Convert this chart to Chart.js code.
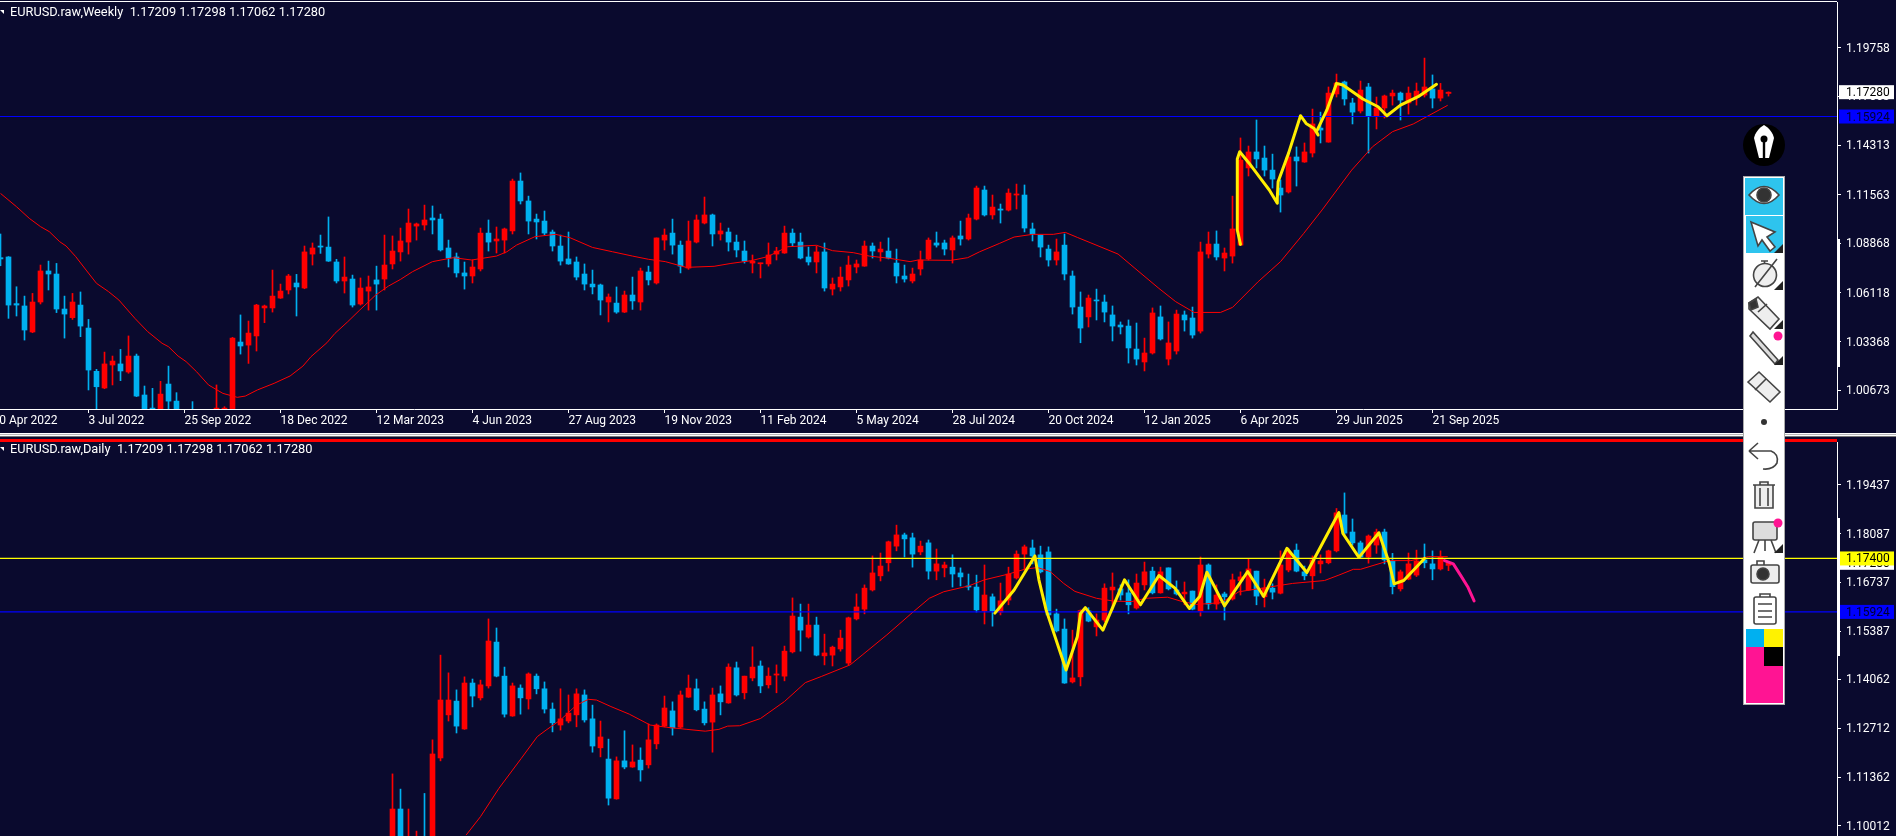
<!DOCTYPE html>
<html>
<head>
<meta charset="utf-8">
<title>EURUSD.raw</title>
<script src="https://cdn.jsdelivr.net/npm/chart.js@4"></script>
<style>
  html, body { margin: 0; padding: 0; width: 1896px; height: 836px; overflow: hidden; background: #0a0a2e; }
  canvas { position: absolute; left: -60px; }
  #weeklyChart { top: 0; }
  #dailyChart { top: 439px; }
  .header { position: absolute; left: 10px; color: #fff; font: 12.8px Roboto, sans-serif; white-space: pre; line-height: 14px; }
  .marker { position: absolute; left: 0; width: 0; height: 0; border-left: 4px solid transparent; border-top: 4px solid #fff; }
  #separator { position: absolute; left: 0; top: 433px; width: 1896px; height: 4px; background: linear-gradient(#fff 0 25%, #b8b8b8 25% 50%, #fff 50% 75%, #777 75%); }
  #redTop { position: absolute; left: 0; top: 439px; width: 1837px; height: 3px; background: #ff0000; }
  .scrollBar { position: absolute; left: 1837px; width: 3px; background: #fff; }
  #toolbar { position: absolute; left: 1743px; top: 120px; }
</style>
</head>
<body>
<canvas id="weeklyChart" width="1956" height="433"></canvas>
<canvas id="dailyChart" width="1956" height="397"></canvas>
<div id="separator"></div>
<div id="redTop"></div>
<div class="marker" style="top:10px"></div>
<div class="marker" style="top:447px"></div>
<div class="header" style="top:5px">EURUSD.raw,Weekly  1.17209 1.17298 1.17062 1.17280</div>
<div class="header" style="top:442px">EURUSD.raw,Daily  1.17209 1.17298 1.17062 1.17280</div>
<div class="scrollBar" style="top:239px;height:128px"></div>
<div class="scrollBar" style="top:518px;height:138px"></div>

<svg id="toolbar" width="44" height="590" viewBox="0 0 44 590">
  <circle cx="21" cy="25" r="21" fill="#000"/>
  <path d="M21 5 C26 8 30 13 31 18 L26 38 H16 L11 18 C12 13 16 8 21 5 Z" fill="#fff"/>
  <circle cx="21" cy="19" r="3.5" fill="#000"/>
  <rect x="19.8" y="21" width="2.4" height="17" fill="#000"/>
  <rect x="0.5" y="56.5" width="41" height="528" fill="#fff" stroke="#aaa"/>
  <rect x="2" y="58" width="38" height="37" fill="#2ec4ee"/>
  <rect x="3" y="96" width="37" height="37" fill="#2ec4ee"/>
  <g fill="none" stroke="#444" stroke-width="1.6">
    <path d="M6 75 Q21 58 36 75 Q21 92 6 75 Z" fill="#fff"/>
    <circle cx="21" cy="75" r="7" fill="#333"/>
    <path d="M8 102 L32 112 L24 117 L32 127 L27 131 L19 120 L15 126 Z" fill="#fff"/>
    <circle cx="22" cy="155" r="11.5" fill="#eee"/>
    <path d="M18 141 h7 M21.5 141 v3 M12 167 L34 139"/>
    <path d="M6 183 L15 177 L36 199 L27 209 L6 189 Z" fill="#eee"/>
    <path d="M6 183 L13 179 L15 187 L8 190 Z" fill="#333"/>
    <path d="M15 192 L24 184"/>
    <path d="M7 216 L10 212 L35 240 L32 244 Z" fill="#ddd"/>
    <path d="M5 262 L16 252 L37 272 L27 282 Z" fill="#eee"/>
    <path d="M12 270 L23 259"/>
    <path d="M6 331 L15 323 M6 331 L15 339 M6 331 H28 Q36 334 34 343 Q30 350 20 349"/>
    <path d="M10 365 H32 M17 365 V362 H25 V365 M12 365 V388 H30 V365 M17 368 V386 M25 368 V386" fill="#eee"/>
    <rect x="10" y="402" width="24" height="18" rx="2" fill="#ddd"/>
    <path d="M16 420 L11 433 M28 420 L33 433 M22 420 V431"/>
    <path d="M14 445 V441 H21 V445"/>
    <rect x="8" y="445" width="28" height="18" rx="2" fill="#eee"/>
    <circle cx="20" cy="454" r="6" fill="#333"/>
    <rect x="11" y="477" width="22" height="27" rx="2" fill="#fff"/>
    <path d="M17 477 V474 H27 V477 M15 484 H29 M15 491 H29 M15 497 H29"/>
  </g>
  <circle cx="21" cy="302" r="3" fill="#333"/>
  <g fill="#222">
    <path d="M40 124 V133 H31 Z"/><path d="M40 161 V170 H31 Z"/><path d="M40 200 V209 H31 Z"/>
    <path d="M40 236 V245 H31 Z"/><path d="M40 424 V433 H31 Z"/>
  </g>
  <circle cx="35" cy="216" r="4.5" fill="#ff1493"/>
  <circle cx="35" cy="403" r="4.5" fill="#ff1493"/>
  <rect x="3" y="509" width="18" height="18" fill="#00b0f0"/>
  <rect x="21" y="509" width="19" height="18" fill="#fff200"/>
  <rect x="3" y="527" width="18" height="19" fill="#ff1493"/>
  <rect x="21" y="527" width="19" height="19" fill="#000"/>
  <rect x="3" y="546" width="37" height="37" fill="#ff1493"/>
</svg>

<script>
// weekly candles, bar 0 is the first one at the left edge of the window
const weeklyOpen = [
  1.0806,1.0810,1.0550,1.0537,1.0392,1.0559,1.0732,1.0715,1.0520,1.0472,
  1.0542,1.0414,1.0173,1.0080,1.0208,1.0214,1.0169,1.0258,1.0041,0.9968,
  0.9930,1.0102,1.0007,0.9930,0.9950,0.9900,0.9800,0.9900,0.9920,0.9900,
  1.0336,1.0319,1.0370,1.0526,1.0526,1.0581,1.0626,1.0665,1.0637,1.0826,
  1.0871,1.0865,1.0782,1.0676,1.0687,1.0548,1.0620,1.0682,1.0687,1.0771,
  1.0838,1.0893,1.0982,1.0988,1.1027,1.1021,1.0860,1.0810,1.0721,1.0704,
  1.0743,1.0943,1.0899,1.0904,1.0955,1.1233,1.1122,1.1021,1.1010,1.0949,
  1.0871,1.0799,1.0782,1.0715,1.0659,1.0654,1.0559,1.0553,1.0503,1.0598,
  1.0559,1.0726,1.0665,1.0904,1.0943,1.0876,1.0748,1.0893,1.0999,1.1044,
  1.0938,1.0949,1.0893,1.0843,1.0776,1.0772,1.0771,1.0826,1.0832,1.0943,
  1.0893,1.0810,1.0782,1.0838,1.0631,1.0643,1.0682,1.0754,1.0759,1.0871,
  1.0838,1.0843,1.0776,1.0704,1.0676,1.0743,1.0799,1.0888,1.0888,1.0849,
  1.0927,1.0910,1.1021,1.1183,1.1044,1.1077,1.1071,1.1155,1.1155,1.0966,
  1.0932,1.0854,1.0793,1.0876,1.0704,1.0531,1.0476,1.0570,1.0559,1.0487,
  1.0431,1.0425,1.0297,1.0225,1.0275,1.0476,1.0241,1.0286,1.0487,1.0470,
  1.0397,1.0826,1.0882,1.0804,1.0815,1.0876,1.1306,1.1395,1.1361,1.1294,
  1.1194,1.1172,1.1367,1.1339,1.1389,1.1528,1.1450,1.1718,1.1785,1.1668,
  1.1623,1.1757,1.1595,1.1640,1.1707,1.1723,1.1668,1.1701,1.1712,1.1746,1.1695,1.17209
];
const weeklyHigh = [
  1.0938,1.0812,1.0644,1.0592,1.0607,1.0765,1.0787,1.0774,1.0592,1.0607,
  1.0615,1.0462,1.0184,1.0280,1.0258,1.0295,1.0370,1.0269,1.0091,1.0078,
  1.0117,1.0202,1.0054,0.9950,1.0004,0.9950,0.9950,1.0097,0.9976,1.0362,
  1.0487,1.0453,1.0546,1.0542,1.0737,1.0659,1.0713,1.0713,1.0871,1.0888,
  1.0932,1.1033,1.0797,1.0810,1.0709,1.0693,1.0704,1.0759,1.0932,1.0927,
  1.0971,1.1077,1.0999,1.1099,1.1094,1.1049,1.0904,1.0832,1.0782,1.0793,
  1.0971,1.1016,1.0977,1.0971,1.1244,1.1278,1.1149,1.1049,1.1066,1.0960,
  1.0932,1.0949,1.0810,1.0771,1.0737,1.0659,1.0604,1.0643,1.0620,1.0698,
  1.0748,1.0759,1.0916,1.0966,1.1021,1.0899,1.1010,1.1044,1.1144,1.1049,
  1.0999,1.0971,1.0932,1.0899,1.0821,1.0776,1.0888,1.0864,1.0982,1.0966,
  1.0943,1.0865,1.0871,1.0888,1.0693,1.0754,1.0815,1.0793,1.0899,1.0888,
  1.0893,1.0916,1.0854,1.0765,1.0748,1.0843,1.0916,1.0949,1.0904,1.0927,
  1.1010,1.1049,1.1205,1.1205,1.1155,1.1105,1.1189,1.1216,1.1211,1.0999,
  1.0932,1.0876,1.0910,1.0938,1.0732,1.0615,1.0598,1.0631,1.0598,1.0537,
  1.0448,1.0459,1.0442,1.0358,1.0526,1.0537,1.0448,1.0514,1.0509,1.0531,
  1.0893,1.0949,1.0955,1.0860,1.1149,1.1473,1.1428,1.1573,1.1428,1.1383,
  1.1239,1.1395,1.1423,1.1445,1.1634,1.1617,1.1757,1.1829,1.1790,1.1694,
  1.1790,1.1777,1.1701,1.1712,1.1740,1.1729,1.1757,1.1779,1.1918,1.1824,1.1777,1.17298
];
const weeklyLow = [
  1.0761,1.0468,1.0481,1.0347,1.0388,1.0548,1.0626,1.0500,1.0358,1.0462,
  1.0366,1.0069,0.9950,1.0076,1.0097,1.0121,1.0162,1.0032,0.9900,0.9920,
  0.9900,0.9940,0.9900,0.9880,0.9870,0.9740,0.9780,0.9700,0.9850,0.9870,
  1.0269,1.0217,1.0286,1.0444,1.0503,1.0579,1.0604,1.0481,1.0633,1.0765,
  1.0830,1.0785,1.0665,1.0609,1.0531,1.0542,1.0514,1.0514,1.0626,1.0743,
  1.0787,1.0826,1.0904,1.0960,1.0938,1.0843,1.0754,1.0698,1.0631,1.0665,
  1.0732,1.0843,1.0832,1.0832,1.0938,1.1105,1.0938,1.0910,1.0932,1.0843,
  1.0765,1.0769,1.0682,1.0626,1.0604,1.0487,1.0448,1.0496,1.0500,1.0518,
  1.0514,1.0654,1.0659,1.0849,1.0826,1.0721,1.0741,1.0888,1.0994,1.0871,
  1.0904,1.0843,1.0810,1.0776,1.0721,1.0693,1.0759,1.0793,1.0830,1.0871,
  1.0799,1.0765,1.0721,1.0620,1.0598,1.0620,1.0648,1.0721,1.0758,1.0804,
  1.0787,1.0799,1.0665,1.0670,1.0665,1.0709,1.0793,1.0865,1.0821,1.0776,
  1.0876,1.0904,1.1016,1.1038,1.1021,1.0999,1.1066,1.1077,1.0949,1.0899,
  1.0810,1.0759,1.0765,1.0682,1.0492,1.0332,1.0420,1.0459,1.0448,1.0342,
  1.0381,1.0219,1.0208,1.0175,1.0269,1.0347,1.0208,1.0269,1.0397,1.0358,
  1.0386,1.0804,1.0793,1.0732,1.0776,1.0875,1.1261,1.1306,1.1261,1.1194,
  1.1060,1.1166,1.1205,1.1337,1.1367,1.1445,1.1449,1.1701,1.1656,1.1551,
  1.1612,1.1389,1.1523,1.1584,1.1656,1.1573,1.1606,1.1656,1.1701,1.1640,1.1679,1.17062
];
const weeklyClose = [
  1.0799,1.0542,1.0542,1.0403,1.0559,1.0732,1.0715,1.0520,1.0492,1.0559,
  1.0425,1.0180,1.0087,1.0214,1.0230,1.0175,1.0258,1.0035,0.9930,0.9945,
  1.0046,1.0007,0.9945,0.9900,0.9900,0.9800,0.9900,0.9968,0.9968,1.0358,
  1.0314,1.0386,1.0542,1.0537,1.0592,1.0620,1.0704,1.0643,1.0838,1.0860,
  1.0865,1.0787,1.0676,1.0698,1.0542,1.0637,1.0643,1.0659,1.0765,1.0843,
  1.0899,1.0999,1.0994,1.1016,1.1016,1.0849,1.0804,1.0721,1.0704,1.0754,
  1.0943,1.0893,1.0910,1.0966,1.1233,1.1122,1.1010,1.1005,1.0943,1.0871,
  1.0787,1.0771,1.0698,1.0659,1.0643,1.0570,1.0587,1.0503,1.0598,1.0565,
  1.0732,1.0682,1.0916,1.0932,1.0876,1.0759,1.0899,1.1016,1.1044,1.0938,
  1.0955,1.0893,1.0849,1.0787,1.0787,1.0776,1.0821,1.0843,1.0943,1.0888,
  1.0804,1.0782,1.0838,1.0637,1.0659,1.0698,1.0765,1.0771,1.0871,1.0843,
  1.0854,1.0804,1.0704,1.0687,1.0715,1.0793,1.0904,1.0876,1.0854,1.0916,
  1.0910,1.1027,1.1194,1.1044,1.1088,1.1071,1.1166,1.1161,1.0971,1.0938,
  1.0865,1.0793,1.0838,1.0715,1.0531,1.0414,1.0581,1.0565,1.0503,1.0425,
  1.0420,1.0303,1.0241,1.0275,1.0498,1.0353,1.0331,1.0492,1.0459,1.0375,
  1.0838,1.0882,1.0810,1.0832,1.0966,1.1350,1.1395,1.1356,1.1294,1.1244,
  1.1155,1.1367,1.1345,1.1395,1.1551,1.1517,1.1723,1.1779,1.1690,1.1617,
  1.1740,1.1595,1.1640,1.1707,1.1723,1.1684,1.1723,1.1734,1.1757,1.1695,1.1740,1.17280
];

// daily candles share the same bar grid, they start at bar 49
const dailyFirstBar = 49;
const dailyOpen = [
  1.0900,1.1048,1.0900,1.0920,1.0960,1.0950,1.1189,1.1308,1.1346,1.1269,1.1396,
  1.1355,1.1388,1.1509,1.1415,1.1305,1.1382,1.1352,1.1415,1.1380,1.1324,
  1.1280,1.1291,1.1308,1.1363,1.1297,1.1217,1.1186,1.1076,1.1181,1.1164,
  1.1183,1.1170,1.1228,1.1277,1.1319,1.1274,1.1357,1.1380,1.1324,1.1288,
  1.1366,1.1341,1.1438,1.1369,1.1410,1.1443,1.1391,1.1418,1.1415,1.1482,
  1.1578,1.1523,1.1556,1.1471,1.1473,1.1490,1.1451,1.1573,1.1600,1.1653,
  1.1692,1.1728,1.1774,1.1805,1.1797,1.1758,1.1783,1.1705,1.1714,1.1716,
  1.1700,1.1664,1.1661,1.1595,1.1634,1.1592,1.1625,1.1686,1.1752,1.1769,
  1.1750,1.1758,1.1587,1.1545,1.1399,1.1413,1.1595,1.1551,1.1570,1.1653,
  1.1656,1.1645,1.1603,1.1667,1.1705,1.1645,1.1714,1.1653,1.1642,1.1650,
  1.1595,1.1722,1.1614,1.1642,1.1628,1.1678,1.1653,1.1705,1.1634,1.1658,
  1.1644,1.1708,1.1763,1.1703,1.1692,1.1725,1.1728,1.1761,1.1860,1.1813,
  1.1783,1.1744,1.1777,1.1813,1.1733,1.1656,1.1683,1.1694,1.1736,1.1725,1.1711,1.17209
];
const dailyHigh = [
  1.1145,1.1103,1.1048,1.0987,1.1091,1.1239,1.1473,1.1424,1.1377,1.1413,1.1407,
  1.1404,1.1573,1.1548,1.1440,1.1396,1.1391,1.1424,1.1421,1.1399,1.1341,
  1.1380,1.1363,1.1380,1.1377,1.1335,1.1291,1.1241,1.1192,1.1264,1.1225,
  1.1217,1.1283,1.1283,1.1360,1.1344,1.1374,1.1418,1.1407,1.1344,1.1382,
  1.1388,1.1449,1.1454,1.1415,1.1496,1.1457,1.1438,1.1446,1.1498,1.1631,
  1.1614,1.1614,1.1578,1.1531,1.1498,1.1542,1.1578,1.1642,1.1667,1.1747,
  1.1755,1.1788,1.1832,1.1810,1.1810,1.1788,1.1791,1.1766,1.1730,1.1750,
  1.1714,1.1697,1.1694,1.1722,1.1642,1.1672,1.1716,1.1761,1.1777,1.1791,
  1.1774,1.1772,1.1600,1.1573,1.1542,1.1598,1.1604,1.1587,1.1670,1.1700,
  1.1667,1.1681,1.1697,1.1730,1.1716,1.1716,1.1714,1.1678,1.1675,1.1650,
  1.1744,1.1725,1.1667,1.1647,1.1697,1.1703,1.1739,1.1705,1.1683,1.1670,
  1.1761,1.1768,1.1780,1.1719,1.1747,1.1750,1.1763,1.1878,1.1921,1.1849,
  1.1788,1.1805,1.1821,1.1821,1.1754,1.1708,1.1755,1.1763,1.1780,1.1761,1.1761,1.17298
];
const dailyLow = [
  1.0880,1.0900,1.0880,1.0900,1.0920,1.0930,1.1181,1.1291,1.1258,1.1268,1.1330,
  1.1349,1.1382,1.1413,1.1302,1.1304,1.1310,1.1324,1.1366,1.1313,1.1261,
  1.1266,1.1286,1.1275,1.1288,1.1205,1.1192,1.1059,1.1075,1.1159,1.1163,
  1.1125,1.1161,1.1214,1.1275,1.1252,1.1271,1.1356,1.1319,1.1280,1.1205,
  1.1308,1.1340,1.1360,1.1352,1.1402,1.1369,1.1382,1.1369,1.1402,1.1479,
  1.1484,1.1520,1.1471,1.1446,1.1443,1.1484,1.1446,1.1570,1.1587,1.1650,
  1.1678,1.1705,1.1761,1.1744,1.1716,1.1750,1.1683,1.1681,1.1689,1.1661,
  1.1664,1.1653,1.1592,1.1559,1.1553,1.1584,1.1612,1.1683,1.1708,1.1725,
  1.1700,1.1583,1.1537,1.1395,1.1396,1.1388,1.1565,1.1526,1.1565,1.1598,
  1.1625,1.1587,1.1600,1.1653,1.1642,1.1644,1.1653,1.1639,1.1612,1.1598,
  1.1581,1.1600,1.1600,1.1570,1.1625,1.1639,1.1652,1.1612,1.1606,1.1628,
  1.1642,1.1703,1.1703,1.1681,1.1656,1.1700,1.1725,1.1758,1.1805,1.1777,
  1.1741,1.1727,1.1754,1.1725,1.1642,1.1650,1.1681,1.1690,1.1714,1.1681,1.1708,1.17062
];
const dailyClose = [
  1.1048,1.0920,1.0950,1.0960,1.0940,1.1200,1.1349,1.1349,1.1277,1.1396,1.1360,
  1.1391,1.1512,1.1415,1.1310,1.1388,1.1355,1.1421,1.1380,1.1324,1.1286,
  1.1297,1.1313,1.1366,1.1294,1.1222,1.1247,1.1078,1.1181,1.1164,1.1178,
  1.1156,1.1239,1.1280,1.1327,1.1272,1.1363,1.1382,1.1322,1.1286,1.1363,
  1.1344,1.1440,1.1363,1.1415,1.1440,1.1388,1.1415,1.1421,1.1484,1.1581,
  1.1542,1.1556,1.1473,1.1479,1.1495,1.1520,1.1576,1.1606,1.1658,1.1700,
  1.1719,1.1786,1.1805,1.1794,1.1752,1.1774,1.1705,1.1725,1.1722,1.1697,
  1.1689,1.1661,1.1598,1.1639,1.1595,1.1623,1.1697,1.1752,1.1772,1.1747,
  1.1703,1.1584,1.1540,1.1396,1.1410,1.1596,1.1567,1.1570,1.1658,1.1661,
  1.1639,1.1612,1.1672,1.1703,1.1645,1.1703,1.1656,1.1642,1.1647,1.1600,
  1.1722,1.1614,1.1639,1.1634,1.1681,1.1689,1.1711,1.1636,1.1658,1.1647,
  1.1722,1.1758,1.1705,1.1692,1.1736,1.1733,1.1761,1.1866,1.1810,1.1783,
  1.1744,1.1802,1.1813,1.1736,1.1662,1.1703,1.1725,1.1733,1.1728,1.1711,1.1744,1.17280
];

// moving averages, read as bar / price pairs
const weeklyMaBars = [0,2,3.6,5,6.1,7.4,8.2,9.4,10.7,12,13.5,14.8,16.8,18.4,20.2,21,22.2,23.2,24.5,26,27.8,29.6,30.6,32.1,34.2,36.2,37.8,38.8,40.8,41.8,43.4,44.9,46.9,48.5,50,51.5,54,56.6,58.9,62,63.3,64.5,66.8,69.4,71.2,74,76.5,79,81,83.1,85.7,89.2,91.3,93.8,95.9,98.4,102,104,106.6,108.6,111.2,113.7,114.7,118.8,120.9,122.4,124.9,126.7,129,131.6,133.1,134.6,136.2,139.7,141.8,144.8,146.9,149.2,152.5,154,157.2,160,162.9,165.2,168.9,171.5,174,176.6,180.9];
const weeklyMaValues = [1.1164,1.1090,1.1025,1.0979,1.0951,1.0895,1.0871,1.0812,1.0737,1.0663,1.0617,1.0570,1.0468,1.0394,1.0329,1.0310,1.0258,1.0227,1.0171,1.0097,1.0050,1.0028,1.0035,1.0069,1.0106,1.0147,1.0202,1.0254,1.0332,1.0384,1.0449,1.0514,1.0598,1.0648,1.0685,1.0728,1.0784,1.0806,1.0793,1.0815,1.0839,1.0876,1.0923,1.0936,1.0917,1.0863,1.0839,1.0815,1.0797,1.0784,1.0752,1.0758,1.0774,1.0789,1.0812,1.0867,1.0875,1.0845,1.0834,1.0815,1.0802,1.0784,1.0793,1.0791,1.0806,1.0839,1.0886,1.0921,1.0936,1.0936,1.0947,1.0919,1.0890,1.0826,1.0747,1.0635,1.0561,1.0501,1.0501,1.0529,1.0672,1.0784,1.0941,1.1072,1.1294,1.1424,1.1508,1.1551,1.1655];
const dailyMaBars = [58.2,60,62.3,65.1,67.1,68.2,70,72,73.5,74.5,76.3,78.6,81.2,83.2,85.8,88.1,89.8,90.9,92.4,95,98,100.6,102.6,106.2,107.7,110.8,113.8,116.1,117.9,121,123,126,128,129.6,131.2,132.9,134.3,137,139.2,141.4,143.2,145.9,147.7,149.5,152.6,154.8,158,161.5,165.5,167.3,169.1,170,173.6,176.3,178.5,180.9];
const dailyMaValues = [1.0976,1.1027,1.1105,1.1188,1.1248,1.1266,1.1294,1.1335,1.1351,1.1349,1.1331,1.1310,1.1280,1.1274,1.1268,1.1263,1.1268,1.1277,1.1278,1.1298,1.1345,1.1397,1.1414,1.1446,1.1473,1.1529,1.1587,1.1630,1.1648,1.1664,1.1681,1.1697,1.1710,1.1715,1.1704,1.1671,1.1649,1.1630,1.1622,1.1621,1.1630,1.1633,1.1621,1.1613,1.1618,1.1648,1.1659,1.1671,1.1679,1.1694,1.1710,1.1710,1.1734,1.1734,1.1745,1.1745];

// hand drawn strokes on top of the charts
const weeklyStrokeBars = [155,154.6,154.6,154.9,156.1,157.5,158.6,159.6,159.6,159.7,161,162.5,163.2,164.2,164.7,164.5,165.8,167,167.8,170.3,172.2,173.3,175,177.2,179.5];
const weeklyStrokeValues = [1.0880,1.0960,1.1356,1.1396,1.1331,1.1248,1.1183,1.1109,1.1137,1.1229,1.1387,1.1597,1.1554,1.1526,1.1489,1.1508,1.1629,1.1777,1.1768,1.1690,1.1647,1.1597,1.1656,1.1703,1.1772];
const dailyStrokeBars = [124.3,126.7,129.3,129.8,130.7,133.2,134.6,135,135.6,137.8,140.5,142.5,144.8,146.8,148.6,149.9,150.8,153,155.9,157.9,160.8,163.3,167.3,167.8,169.8,172.3,173.6,174.2,175.4,178];
const dailyStrokeValues = [1.1589,1.1653,1.1747,1.1681,1.1598,1.1432,1.1524,1.1588,1.1604,1.1542,1.1681,1.1612,1.1693,1.1658,1.1602,1.1635,1.1702,1.1609,1.1704,1.1635,1.1768,1.1701,1.1867,1.1809,1.1743,1.1811,1.1727,1.1670,1.1679,1.1740];
const dailyForecastBars = [180.5,181.6,182.5,183.4,184.2];
const dailyForecastValues = [1.1734,1.1725,1.1694,1.1662,1.1623];

const supportLevel = 1.15924;
const resistanceLevel = 1.17400;
const lastPrice = 1.17280;

const weeklyTicks = [1.19758,1.17063,1.14313,1.11563,1.08868,1.06118,1.03368,1.00673];
const dailyTicks = [1.19437,1.18087,1.16737,1.15387,1.14062,1.12712,1.11362,1.10012];
const dateTickBars = [-1,11,23,35,47,59,71,83,95,107,119,131,143,155,167,179];
const dateTickLabels = ['10 Apr 2022','3 Jul 2022','25 Sep 2022','18 Dec 2022','12 Mar 2023','4 Jun 2023','27 Aug 2023','19 Nov 2023','11 Feb 2024','5 May 2024','28 Jul 2024','20 Oct 2024','12 Jan 2025','6 Apr 2025','29 Jun 2025','21 Sep 2025'];

const UP = '#ff0000';
const DOWN = '#00b0f0';
const font = { family: 'Roboto, sans-serif', size: 12 };

// 8px per bar, the canvas starts 60px left of the window
const barMin = -7.5625;
const barMax = 229.5625;

function pairs(xs, ys) {
  return xs.map((x, i) => ({ x: x, y: ys[i] }));
}

function levelLine(value, color) {
  return {
    type: 'line',
    data: [{ x: barMin, y: value }, { x: barMax, y: value }],
    borderColor: color,
    borderWidth: 1.2,
    pointRadius: 0,
    order: 2
  };
}

function strokeLine(xs, ys, color, order) {
  return {
    type: 'line',
    data: pairs(xs, ys),
    borderColor: color,
    borderWidth: 3,
    borderJoinStyle: 'round',
    borderCapStyle: 'round',
    pointRadius: 0,
    order: order
  };
}

function candleSets(open, high, low, close, firstBar) {
  const colors = close.map((c, i) => (c >= open[i] ? UP : DOWN));
  return [
    {
      type: 'bar',
      data: high.map((h, i) => ({ x: firstBar + i, y: [low[i], h] })),
      backgroundColor: colors,
      barThickness: 1,
      grouped: false,
      order: 6
    },
    {
      type: 'bar',
      data: open.map((o, i) => ({ x: firstBar + i, y: [o, close[i]] })),
      backgroundColor: colors,
      barThickness: 5,
      minBarLength: 1,
      grouped: false,
      order: 5
    }
  ];
}

// axis price boxes and the thin frame line
const pricePanel = {
  id: 'pricePanel',
  afterDraw(chart, args, opts) {
    const ctx = chart.ctx;
    const y = chart.scales.y;
    const right = chart.chartArea.right;
    ctx.save();
    ctx.font = '12px Roboto, sans-serif';
    ctx.textBaseline = 'middle';
    opts.tags.forEach(tag => {
      const py = y.getPixelForValue(tag.value);
      ctx.fillStyle = tag.bg;
      ctx.fillRect(right + 2, py - 7, 55, 14);
      ctx.fillStyle = tag.fg;
      ctx.fillText(tag.value.toFixed(5), right + 9, py + 1);
    });
    if (opts.topLine) {
      ctx.fillStyle = '#fff';
      ctx.fillRect(0, chart.chartArea.top - 1, right, 1);
    }
    ctx.restore();
  }
};

function makeChart(id, datasets, yMin, yMax, yTicks, tags, showDates, paddingTop) {
  const xAxis = {
    type: 'linear',
    offset: false,
    min: barMin,
    max: barMax,
    display: showDates,
    afterBuildTicks: scale => { scale.ticks = dateTickBars.map(v => ({ value: v })); },
    afterFit: scale => {
      scale.height = showDates ? 24 : 0;
      scale.paddingLeft = 0;
      scale.paddingRight = 0;
    },
    border: { display: true, color: '#fff' },
    grid: { drawOnChartArea: false, drawTicks: true, tickLength: 4, color: '#fff', offset: false },
    ticks: {
      color: '#fff',
      font: font,
      align: 'start',
      padding: 1,
      maxRotation: 0,
      autoSkip: false,
      callback: value => dateTickLabels[dateTickBars.indexOf(value)]
    }
  };
  return new Chart(document.getElementById(id), {
    data: { datasets: datasets },
    plugins: [pricePanel],
    options: {
      responsive: false,
      animation: false,
      events: [],
      layout: { autoPadding: false, padding: { top: paddingTop } },
      plugins: {
        legend: { display: false },
        tooltip: { enabled: false },
        pricePanel: { tags: tags, topLine: showDates }
      },
      scales: {
        x: xAxis,
        y: {
          type: 'linear',
          position: 'right',
          min: yMin,
          max: yMax,
          afterBuildTicks: scale => { scale.ticks = yTicks.map(v => ({ value: v })); },
          afterFit: scale => {
            scale.width = 59;
            scale.paddingTop = 0;
            scale.paddingBottom = 0;
          },
          border: { display: true, color: '#fff' },
          grid: { drawOnChartArea: false, drawTicks: true, tickLength: 4, color: '#fff' },
          ticks: {
            color: '#fff',
            font: font,
            padding: 5,
            labelOffset: 1,
            autoSkip: false,
            callback: value => value.toFixed(5)
          }
        }
      }
    }
  });
}

makeChart('weeklyChart', [
  ...candleSets(weeklyOpen, weeklyHigh, weeklyLow, weeklyClose, 0),
  { type: 'line', data: pairs(weeklyMaBars, weeklyMaValues), borderColor: '#ff0000', borderWidth: 1, pointRadius: 0, order: 3 },
  levelLine(supportLevel, '#0000ff'),
  strokeLine(weeklyStrokeBars, weeklyStrokeValues, '#ffee00', 1)
], 0.99630, 1.22304, weeklyTicks, [
  { value: lastPrice, bg: '#fff', fg: '#000' },
  { value: supportLevel, bg: '#0000ff', fg: '#000030' }
], true, 2);

makeChart('dailyChart', [
  ...candleSets(dailyOpen, dailyHigh, dailyLow, dailyClose, dailyFirstBar),
  { type: 'line', data: pairs(dailyMaBars, dailyMaValues), borderColor: '#ff0000', borderWidth: 1, pointRadius: 0, order: 3 },
  levelLine(supportLevel, '#0000ff'),
  levelLine(resistanceLevel, '#ffff00'),
  strokeLine(dailyStrokeBars, dailyStrokeValues, '#ffee00', 1),
  strokeLine(dailyForecastBars, dailyForecastValues, '#ff1493', 0)
], 1.09735, 1.20616, dailyTicks, [
  { value: lastPrice, bg: '#fff', fg: '#000' },
  { value: supportLevel, bg: '#0000ff', fg: '#000030' },
  { value: resistanceLevel, bg: '#ffff00', fg: '#000' }
], false, 3);
</script>
</body>
</html>
